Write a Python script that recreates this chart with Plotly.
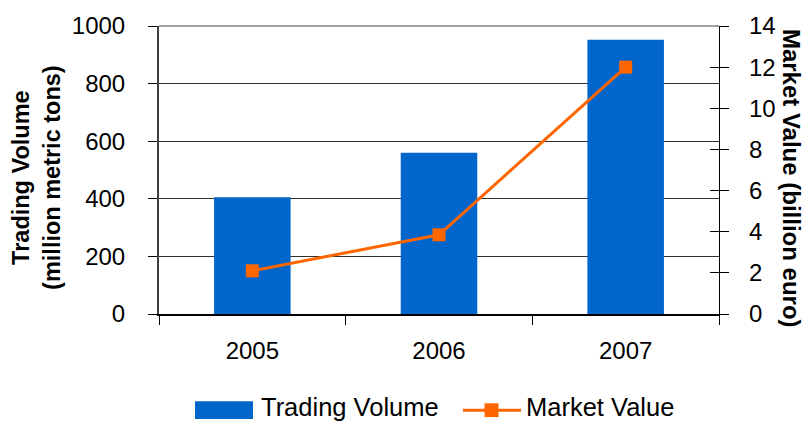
import plotly.graph_objects as go

years = ["2005", "2006", "2007"]
trading_volume = [405, 560, 952]
market_value = [2.1, 3.85, 12.0]

BLUE = "#0066CC"
ORANGE = "#FF6600"
FONT = "Liberation Sans, Arial, sans-serif"

L, R, T, B = 159, 86, 22, 110
W, H = 805, 424
PW = W - L - R
PH = H - T - B

def px(x):
    return (x - L) / PW

def py(y):
    return (H - B - y) / PH

fig = go.Figure()
fig.add_trace(go.Bar(x=years, y=trading_volume, marker=dict(color=BLUE, line=dict(width=0)),
                     width=0.41, name="Trading Volume", yaxis="y"))
fig.add_trace(go.Scatter(x=years, y=market_value, mode="lines+markers", name="Market Value",
                         line=dict(color=ORANGE, width=3),
                         marker=dict(symbol="square", size=13, color=ORANGE), yaxis="y2"))
# invisible helper trace so the inner right-hand ticks axis is drawn
fig.add_trace(go.Scatter(x=years, y=market_value, mode="none", yaxis="y3",
                         showlegend=False, hoverinfo="skip"))

shapes = [
    # top border
    dict(type="line", xref="paper", yref="paper", x0=0, x1=1, y0=1, y1=1,
         line=dict(color="#A0A0A0", width=2)),
    # legend swatches
    dict(type="rect", xref="paper", yref="paper", x0=px(195), x1=px(253), y0=py(420.5), y1=py(402.5),
         fillcolor=BLUE, line=dict(width=0)),
    dict(type="line", xref="paper", yref="paper", x0=px(463), x1=px(521), y0=py(411.5), y1=py(411.5),
         line=dict(color=ORANGE, width=3)),
    dict(type="rect", xref="paper", yref="paper", x0=px(484.5), x1=px(498.5), y0=py(418.5), y1=py(404.5),
         fillcolor=ORANGE, line=dict(width=0)),
]

annotations = [
    dict(text="<b>Trading Volume</b>", xref="paper", yref="paper", x=px(21), y=py(176),
         textangle=-90, showarrow=False, font=dict(size=23.5, color="black", family=FONT),
         xanchor="center", yanchor="middle"),
    dict(text="<b>(million metric tons)</b>", xref="paper", yref="paper", x=px(52), y=py(176),
         textangle=-90, showarrow=False, font=dict(size=23.5, color="black", family=FONT),
         xanchor="center", yanchor="middle"),
    dict(text="<b>Market Value (billion euro)</b>", xref="paper", yref="paper", x=px(791), y=py(176),
         textangle=90, showarrow=False, font=dict(size=24, color="black", family=FONT),
         xanchor="center", yanchor="middle"),
    dict(text="Trading Volume", xref="paper", yref="paper", x=px(259), y=py(408),
         showarrow=False, font=dict(size=25.5, color="black", family=FONT),
         xanchor="left", yanchor="middle"),
    dict(text="Market Value", xref="paper", yref="paper", x=px(524), y=py(408),
         showarrow=False, font=dict(size=25.5, color="black", family=FONT),
         xanchor="left", yanchor="middle"),
]

fig.update_layout(
    width=W, height=H,
    margin=dict(l=L, r=R, t=T, b=B),
    paper_bgcolor="white", plot_bgcolor="white",
    showlegend=False,
    font=dict(family=FONT, size=24, color="black"),
    bargap=0.59,
    xaxis=dict(type="category", showline=True, linecolor="black", linewidth=1.5,
               ticks="outside", ticklen=9, tickcolor="black", tickson="boundaries",
               showgrid=False, tickfont=dict(size=24), ticklabelstandoff=14),
    yaxis=dict(range=[0, 1000], dtick=200, showline=True, linecolor="#404040", linewidth=2,
               ticks="outside", ticklen=9, tickcolor="black", showgrid=True,
               gridcolor="#303030", gridwidth=1, zeroline=False, tickfont=dict(size=24),
               ticklabelstandoff=18),
    yaxis2=dict(range=[0, 14], dtick=2, overlaying="y", side="right", showline=True,
                linecolor="black", linewidth=1.2, ticks="outside", ticklen=9, tickcolor="black",
                showgrid=False, zeroline=False, tickfont=dict(size=24), ticklabelstandoff=15),
    yaxis3=dict(range=[0, 14], dtick=2, overlaying="y", side="right", showline=False,
                ticks="inside", ticklen=9, tickcolor="black", showticklabels=False,
                showgrid=False, zeroline=False),
    shapes=shapes,
    annotations=annotations,
)

fig.write_html("out.html", config={"displayModeBar": False},
               post_script="document.body.style.margin='0';document.body.style.padding='0';")
